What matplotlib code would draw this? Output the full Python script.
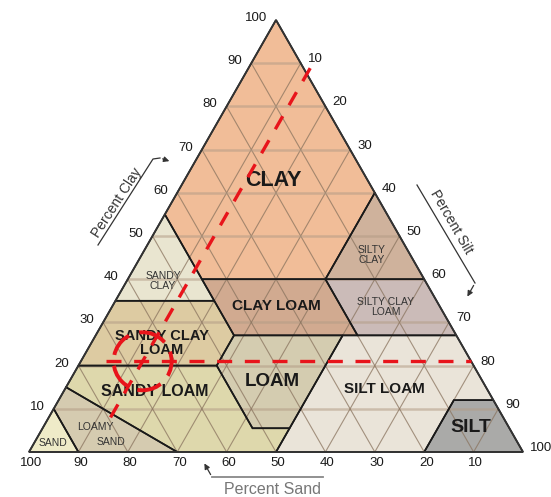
import matplotlib
matplotlib.use("Agg")
import matplotlib.pyplot as plt
from matplotlib.patches import Polygon, Circle

plt.rcParams['font.family'] = ['Liberation Sans', 'DejaVu Sans']

# ---------------- data ----------------
clay_ticks = [10, 20, 30, 40, 50, 60, 70, 80, 90, 100]
sand_ticks = [100, 90, 80, 70, 60, 50, 40, 30, 20, 10]
silt_ticks = [10, 20, 30, 40, 50, 60, 70, 80, 90, 100]
grid_values = [10, 20, 30, 40, 50, 60, 70, 80, 90]

# texture classes as (clay %, silt %) vertices
clay_poly = [(55, 0), (100, 0), (60, 40), (40, 40), (40, 15)]
silty_clay_poly = [(40, 40), (60, 40), (40, 60)]
sandy_clay_poly = [(35, 0), (55, 0), (40, 15), (35, 20)]
clay_loam_poly = [(27, 28), (35, 20), (40, 15), (40, 40), (27, 53)]
silty_clay_loam_poly = [(27, 53), (40, 40), (40, 60), (27, 73)]
sandy_clay_loam_poly = [(20, 0), (35, 0), (35, 20), (27, 28), (20, 28)]
loam_poly = [(5.5, 42.5), (20, 28), (27, 28), (27, 50), (5.5, 50)]
silt_loam_poly = [(0, 50), (27, 50), (27, 73), (12, 88), (12, 80), (0, 80)]
silt_poly = [(0, 80), (12, 80), (12, 88), (0, 100)]
sandy_loam_poly = [(15, 0), (20, 0), (20, 28), (5.5, 42.5), (5.5, 50), (0, 50), (0, 30)]
loamy_sand_poly = [(10, 0), (15, 0), (0, 30), (0, 10)]
sand_poly = [(0, 0), (10, 0), (0, 10)]

# red reading lines (clay %, silt %)
red_clay = 21
red_clay_silt_range = [5, 79]
red_silt = 12.5
red_silt_clay_range = [8, 90]

# ---------------- layout ----------------
W, H = 551, 497
V_SAND = (29, 452)
V_SILT = (523, 452)
V_CLAY = (276, 20)


def tern(clay, silt):
    sand = 100 - clay - silt
    x = (sand * V_SAND[0] + silt * V_SILT[0] + clay * V_CLAY[0]) / 100
    y = (sand * V_SAND[1] + silt * V_SILT[1] + clay * V_CLAY[1]) / 100
    return x, y


fig = plt.figure(figsize=(W / 100, H / 100), dpi=100)
ax = fig.add_axes([0, 0, 1, 1])
ax.set_xlim(0, W)
ax.set_ylim(H, 0)
ax.set_aspect('equal')
ax.axis('off')

regions = [
    (clay_poly, '#F1BD98'),
    (silty_clay_poly, '#CFB29C'),
    (sandy_clay_poly, '#E9E5D0'),
    (clay_loam_poly, '#D1AA90'),
    (silty_clay_loam_poly, '#CBBBB8'),
    (sandy_clay_loam_poly, '#DDCBA2'),
    (loam_poly, '#D4CCB0'),
    (silt_loam_poly, '#EAE4D9'),
    (silt_poly, '#AAAAA8'),
    (sandy_loam_poly, '#DED8AC'),
    (loamy_sand_poly, '#D5CBB0'),
    (sand_poly, '#EFEBC8'),
]
for poly, col in regions:
    pts = [tern(c, s) for c, s in poly]
    ax.add_patch(Polygon(pts, closed=True, facecolor=col, edgecolor='none', zorder=1))

# grid
for v in grid_values:
    x0, y0 = tern(v, 0)
    x1, y1 = tern(v, 100 - v)
    ax.plot([x0, x1], [y0, y1], color='#B39C86', lw=1.8, alpha=0.55, zorder=2, solid_capstyle='butt')
    x0, y0 = tern(0, v)
    x1, y1 = tern(100 - v, v)
    ax.plot([x0, x1], [y0, y1], color='#8A745F', lw=0.8, alpha=0.75, zorder=2)
    x0, y0 = tern(0, 100 - v)
    x1, y1 = tern(100 - v, 0)
    ax.plot([x0, x1], [y0, y1], color='#8A745F', lw=0.8, alpha=0.75, zorder=2)

# boundaries
for poly, col in regions:
    pts = [tern(c, s) for c, s in poly]
    ax.add_patch(Polygon(pts, closed=True, facecolor='none', edgecolor='#1a1a1a',
                         lw=1.2, zorder=3, joinstyle='miter'))

# outline
tri = [tern(0, 0), tern(0, 100), tern(100, 0)]
ax.add_patch(Polygon(tri, closed=True, facecolor='none', edgecolor='#333333', lw=1.3, zorder=4))

# class labels
bold_labels = [
    ('CLAY', 273, 181, 15.5),
    ('CLAY LOAM', 276, 306, 11),
    ('SANDY CLAY\nLOAM', 162, 343, 10.5),
    ('LOAM', 272, 381, 13.5),
    ('SANDY LOAM', 155, 391, 11.5),
    ('SILT LOAM', 384, 389, 11),
    ('SILT', 471, 428, 14),
]
for t, x, y, fs in bold_labels:
    ax.text(x, y, t, ha='center', va='center', fontsize=fs, fontweight='bold',
            color='#1a1a1a', linespacing=1.0, zorder=6)

small_labels = [
    ('SILTY\nCLAY', 372, 255),
    ('SANDY\nCLAY', 163, 281),
    ('SILTY CLAY\nLOAM', 386, 307),
    ('LOAMY', 95, 427),
    ('SAND', 111, 442),
    ('SAND', 53, 443),
]
for t, x, y in small_labels:
    ax.text(x, y, t, ha='center', va='center', fontsize=7.5, color='#333333',
            linespacing=1.05, zorder=6)

# tick labels
TFS = 9.5
for v in clay_ticks:
    x, y = tern(v, 0)
    ax.text(x - 9, y - 2, str(v), ha='right', va='center', fontsize=TFS, color='#1a1a1a')
for v in sand_ticks:
    x, y = tern(0, 100 - v)
    ax.text(x + 2, y + 11, str(v), ha='center', va='center', fontsize=TFS, color='#1a1a1a')
for v in silt_ticks:
    x, y = tern(100 - v, v)
    ax.text(x + 7, y - 4, str(v), ha='left', va='center', fontsize=TFS, color='#1a1a1a')

# axis titles with arrows
ax.text(117, 203, 'Percent Clay', rotation=57, ha='center', va='center', fontsize=10,
        color='#333333', rotation_mode='anchor')
ax.plot([98, 153, 160], [245, 159, 158], color='#333333', lw=0.9)
ax.annotate('', xy=(172, 162), xytext=(160, 158),
            arrowprops=dict(arrowstyle='-|>', color='#333333', lw=0.9, mutation_scale=8))

ax.text(451, 222, 'Percent Silt', rotation=-60, ha='center', va='center', fontsize=10,
        color='#333333', rotation_mode='anchor')
ax.plot([417, 475], [185, 283], color='#333333', lw=0.9)
ax.annotate('', xy=(466, 299), xytext=(475, 283),
            arrowprops=dict(arrowstyle='-|>', color='#333333', lw=0.9, mutation_scale=8))

ax.text(273, 490, 'Percent Sand', ha='center', va='center', fontsize=11.5, color='#777777')
ax.plot([212, 323], [477, 477], color='#888888', lw=1.3)
ax.annotate('', xy=(203, 461), xytext=(212, 477),
            arrowprops=dict(arrowstyle='-|>', color='#333333', lw=0.9, mutation_scale=8))

# red reading lines
red = '#E8141B'
p0 = tern(red_clay, red_clay_silt_range[0])
p1 = tern(red_clay, red_clay_silt_range[1])
ax.plot([p0[0], p1[0]], [p0[1], p1[1]], color=red, lw=2.4, linestyle=(0, (4.5, 3.8)), zorder=8)
q0 = tern(red_silt_clay_range[0], red_silt)
q1 = tern(red_silt_clay_range[1], red_silt)
ax.plot([q0[0], q1[0]], [q0[1], q1[1]], color=red, lw=2.4, linestyle=(0, (4.5, 3.8)), zorder=8)
cx, cy = tern(red_clay, red_silt)
ax.add_patch(Circle((cx, cy), 29, facecolor='none', edgecolor=red, lw=2.8,
                    linestyle=(0, (6.4, 2.8)), zorder=8))

fig.savefig('out.png', dpi=100, facecolor='white')
